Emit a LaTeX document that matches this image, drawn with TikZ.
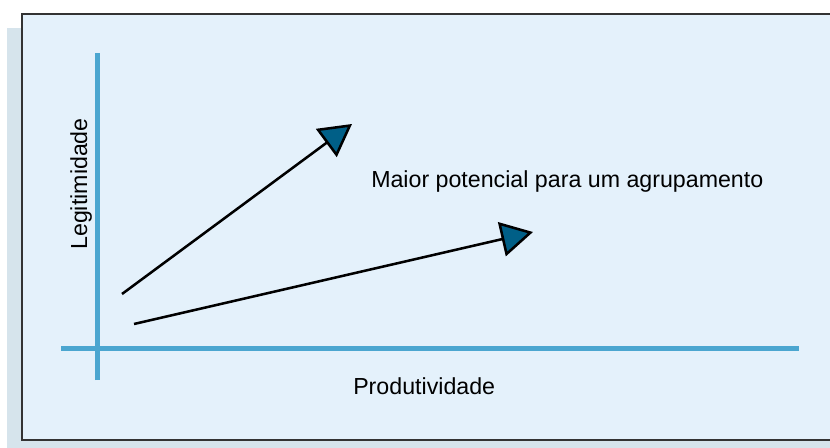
\documentclass[tikz,border=0pt]{standalone}
\usepackage{fontspec}
\setmainfont{Liberation Sans}
\usetikzlibrary{arrows.meta}

\definecolor{panelblue}{HTML}{E4F1FB}
\definecolor{shadowgray}{HTML}{D6E4EC}
\definecolor{axisblue}{HTML}{4BA6D0}
\definecolor{headblue}{HTML}{005F87}

\tikzset{
  axisline/.style={draw=axisblue, line width=3.75pt},
  trend/.style={draw=black, line width=1.9pt, line join=miter,
    -{Triangle[length=24pt,width=26pt,fill=headblue]}},
  lbl/.style={font=\fontsize{17.4}{20}\selectfont, inner sep=0pt}
}

\begin{document}
\begin{tikzpicture}[x=0.75pt, y=-0.75pt]
        \useasboundingbox (0,0) rectangle (830,448);
        \clip (0,0) rectangle (830,448);
        % backdrop
        \fill[shadowgray] (7,28) rectangle (850,460);
        \fill[panelblue] (22,14) rectangle (850,440);
        \draw[line width=1.5pt, draw=black!80] (850,14) -- (22,14) -- (22,440) -- (850,440);
        % axes
        \coordinate (ytop) at (97,53);
        \coordinate (ybot) at (97,380);
        \coordinate (xleft) at (61,348);
        \coordinate (xright) at (799,348);
        \draw[axisline] (ybot) -- (ytop);
        \draw[axisline] (xleft) -- (xright);
        % arrows
        \coordinate (s1) at (122,294);
        \coordinate (e1) at (352,124);
        \coordinate (s2) at (134,324);
        \coordinate (e2) at (533,232);
        \draw[trend] (s1) -- (e1);
        \draw[trend] (s2) -- (e2);
        % labels
        \node[lbl, anchor=base west] (potencial) at (371,188) {Maior potencial para um agrupamento};
        \node[lbl, anchor=base west] (produtividade) at (353,394) {Produtividade};
        \node[lbl, anchor=base west, rotate=90] (legitimidade) at (87,250) {Legitimidade};
      \end{tikzpicture}
\end{document}
